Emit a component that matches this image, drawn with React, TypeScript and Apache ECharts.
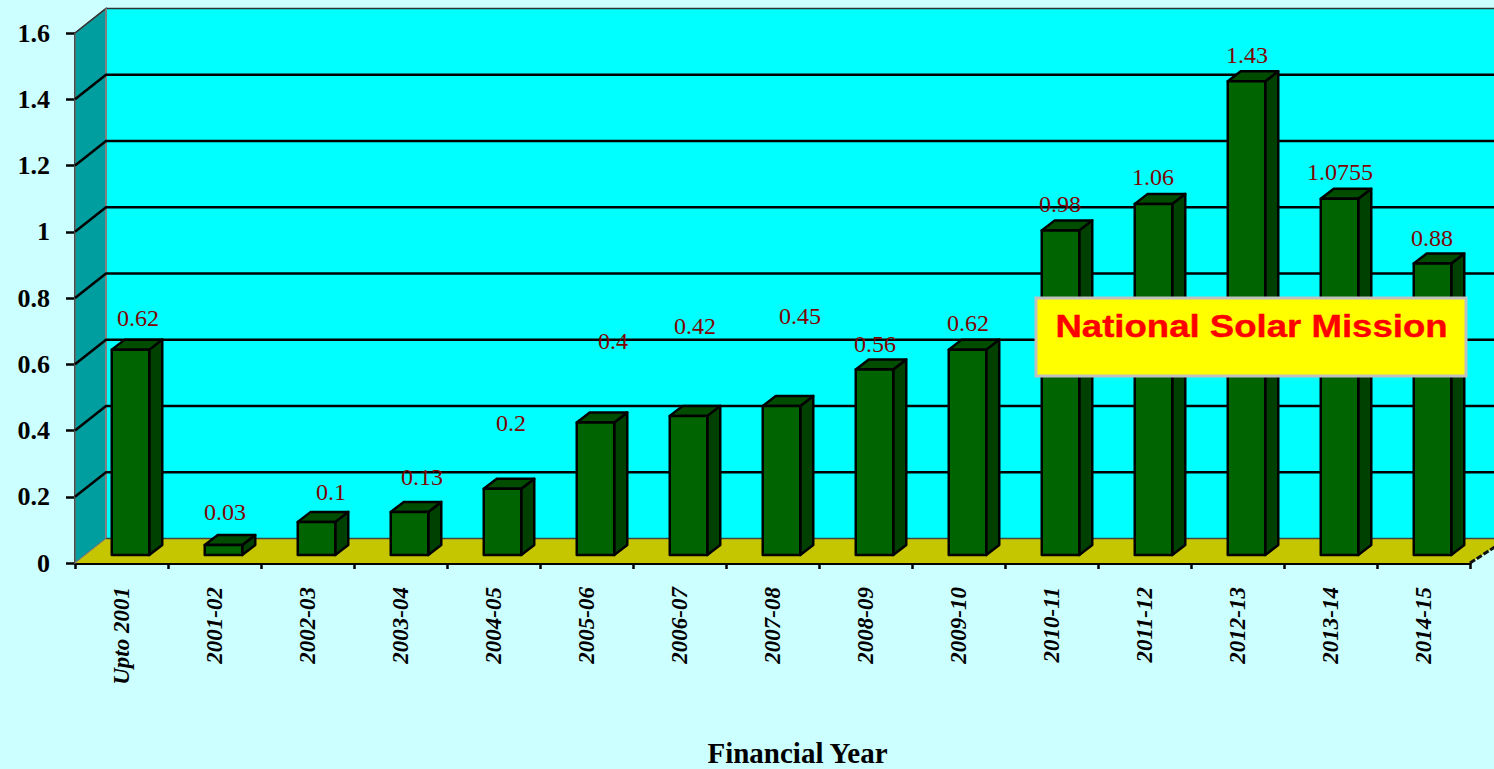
import React, { useEffect, useRef } from "react";
import * as echarts from "echarts";

const categories = ["Upto 2001", "2001-02", "2002-03", "2003-04", "2004-05", "2005-06", "2006-07", "2007-08", "2008-09", "2009-10", "2010-11", "2011-12", "2012-13", "2013-14", "2014-15"];
const capacity = [0.62, 0.03, 0.1, 0.13, 0.2, 0.4, 0.42, 0.45, 0.56, 0.62, 0.98, 1.06, 1.43, 1.0755, 0.88];
const gridValues = [0.2, 0.4, 0.6, 0.8, 1, 1.2, 1.4];
const boxTitle = "National Solar Mission";
const axisTitle = "Financial Year";

// Layout only: where each data label was placed relative to its bar top.
const labelNudgeX = [8, 2, 15, 13, 9, 18, 7, 19, 1, 1, 0, 0, 1, 1, 0];
const labelNudgeY = [-32, -33, -30, -35, -66, -82, -90, -90, -26, -27, -26, -27, -26, -27, -26];

const SERIF = '"Liberation Serif", serif';
const WALL_DX = 31;
const WALL_DY = -24.5;
const BAR_SHIFT_X = 9;
const BAR_SHIFT_Y = -8;
const BAR_FRACTION = 37.5 / 93;
const SIDE_DX = 13;
const SIDE_DY = -10;

function renderBackdrop(params: any) {
  const c = params.coordSys;
  const l = c.x;
  const r = c.x + c.width;
  const t = c.y;
  const b = c.y + c.height;
  return {
    type: "group",
    children: [
      { type: "polygon", shape: { points: [[l, t], [l + WALL_DX, t + WALL_DY], [l + WALL_DX, b + WALL_DY], [l, b]] }, style: { fill: "#009e9e", stroke: "#666666", lineWidth: 1.5 } },
      { type: "polygon", shape: { points: [[l + WALL_DX, t + WALL_DY], [r + WALL_DX, t + WALL_DY], [r + WALL_DX, b + WALL_DY], [l + WALL_DX, b + WALL_DY]] }, style: { fill: "#00ffff" } },
      { type: "polyline", shape: { points: [[l, t], [l + WALL_DX, t + WALL_DY], [r + WALL_DX, t + WALL_DY]] }, style: { fill: "none", stroke: "#333333", lineWidth: 1.5 } },
      { type: "line", shape: { x1: l + WALL_DX, y1: t + WALL_DY, x2: l + WALL_DX, y2: b + WALL_DY }, style: { stroke: "#808080", lineWidth: 2 } },
      { type: "polygon", shape: { points: [[l, b], [l + WALL_DX, b + WALL_DY], [r + WALL_DX, b + WALL_DY], [r + WALL_DX, b - 20], [r, b]] }, style: { fill: "#c6c600" } },
      { type: "line", shape: { x1: l + WALL_DX, y1: b + WALL_DY, x2: r + WALL_DX, y2: b + WALL_DY }, style: { stroke: "#444444", lineWidth: 1.5 } },
      { type: "line", shape: { x1: l, y1: b, x2: l + WALL_DX, y2: b + WALL_DY }, style: { stroke: "#808080", lineWidth: 1 } },
      { type: "line", shape: { x1: r, y1: b, x2: r + WALL_DX, y2: b - 20 }, style: { stroke: "#111111", lineWidth: 3, lineDash: [6, 2] } },
    ],
  };
}

function renderGrid(params: any, api: any) {
  const p = api.coord([0, api.value(0)]);
  const c = params.coordSys;
  const y = p[1];
  return {
    type: "polyline",
    shape: { points: [[c.x, y], [c.x + WALL_DX, y + WALL_DY], [c.x + c.width + WALL_DX, y + WALL_DY]] },
    style: { fill: "none", stroke: "#000000", lineWidth: 2.5 },
  };
}

function renderBar(params: any, api: any) {
  const i = api.value(0);
  const v = api.value(1);
  const top = api.coord([i, v]);
  const base = api.coord([i, 0]);
  const w = api.size([1, 0])[0] * BAR_FRACTION;
  const x0 = top[0] + BAR_SHIFT_X - w / 2;
  const x1 = x0 + w;
  const yT = top[1] + BAR_SHIFT_Y;
  const yB = base[1] + BAR_SHIFT_Y;
  const edge = { stroke: "#000000", lineWidth: 2.5, lineJoin: "round" };
  return {
    type: "group",
    children: [
      { type: "polygon", shape: { points: [[x1, yT], [x1 + SIDE_DX, yT + SIDE_DY], [x1 + SIDE_DX, yB + SIDE_DY], [x1, yB]] }, style: { fill: "#004000", ...edge } },
      { type: "polygon", shape: { points: [[x0, yT], [x0 + SIDE_DX, yT + SIDE_DY], [x1 + SIDE_DX, yT + SIDE_DY], [x1, yT]] }, style: { fill: "#004d00", ...edge } },
      { type: "polygon", shape: { points: [[x0, yT], [x1, yT], [x1, yB], [x0, yB]] }, style: { fill: "#006400", ...edge } },
      {
        type: "text",
        x: top[0] + BAR_SHIFT_X - 0.5 + labelNudgeX[i],
        y: yT + labelNudgeY[i],
        style: { text: String(v), font: `24px ${SERIF}`, fill: "#800000", textAlign: "center", textVerticalAlign: "middle" },
      },
    ],
  };
}

export default function App() {
  const ref = useRef<HTMLDivElement>(null);
  useEffect(() => {
    const chart = echarts.init(ref.current!, undefined, { renderer: "svg" });
    chart.setOption({
      animation: false,
      backgroundColor: "#ccffff",
      grid: { left: 75, right: 24, top: 33, bottom: 206, containLabel: false, outerBoundsMode: "none" },
      xAxis: {
        type: "category",
        data: categories,
        name: axisTitle,
        nameLocation: "middle",
        nameGap: 190,
        nameTextStyle: { fontFamily: SERIF, fontWeight: "bold", fontSize: 29, color: "#000000", padding: [0, 0, 0, 50], verticalAlign: "middle" },
        axisLine: { show: true, lineStyle: { color: "#000000", width: 3 } },
        axisTick: { show: true, length: 6, alignWithLabel: false, lineStyle: { color: "#000000", width: 2.5 } },
        axisLabel: { interval: 0, rotate: 90, margin: 24, fontFamily: SERIF, fontWeight: "bold", fontStyle: "italic", fontSize: 23, color: "#000000" },
        splitLine: { show: false },
      },
      yAxis: {
        type: "value",
        min: 0,
        max: 1.6,
        interval: 0.2,
        axisLine: { show: true, lineStyle: { color: "#000000", width: 2 } },
        axisTick: { show: true, length: 9, lineStyle: { color: "#000000", width: 2.5 } },
        axisLabel: { margin: 25, fontFamily: SERIF, fontWeight: "bold", fontSize: 26, color: "#000000" },
        splitLine: { show: false },
      },
      series: [
        { type: "custom", z: 1, silent: true, data: [0], encode: { x: -1, y: -1 }, renderItem: renderBackdrop },
        { type: "custom", z: 2, silent: true, data: gridValues.map((v) => [v]), encode: { y: 0, x: -1 }, renderItem: renderGrid },
        { type: "custom", z: 3, silent: true, data: capacity.map((v, i) => [i, v]), encode: { x: 0, y: 1 }, renderItem: renderBar },
      ],
      graphic: [
        { type: "rect", z: 10, shape: { x: 1036, y: 298, width: 430, height: 78 }, style: { fill: "#ffff00", stroke: "#c0c0c0", lineWidth: 3 } },
        { type: "text", z: 11, x: 1251.5, y: 326, scaleX: 1.143, style: { text: boxTitle, font: 'bold 32px "Liberation Sans", Arial, sans-serif', fill: "#ff0000", stroke: "#ff0000", lineWidth: 0.4, textAlign: "center", textVerticalAlign: "middle" } },
      ],
    });
    return () => chart.dispose();
  }, []);
  return <div ref={ref} style={{ position: "absolute", left: 0, top: 0, width: 1494, height: 769 }} />;
}
